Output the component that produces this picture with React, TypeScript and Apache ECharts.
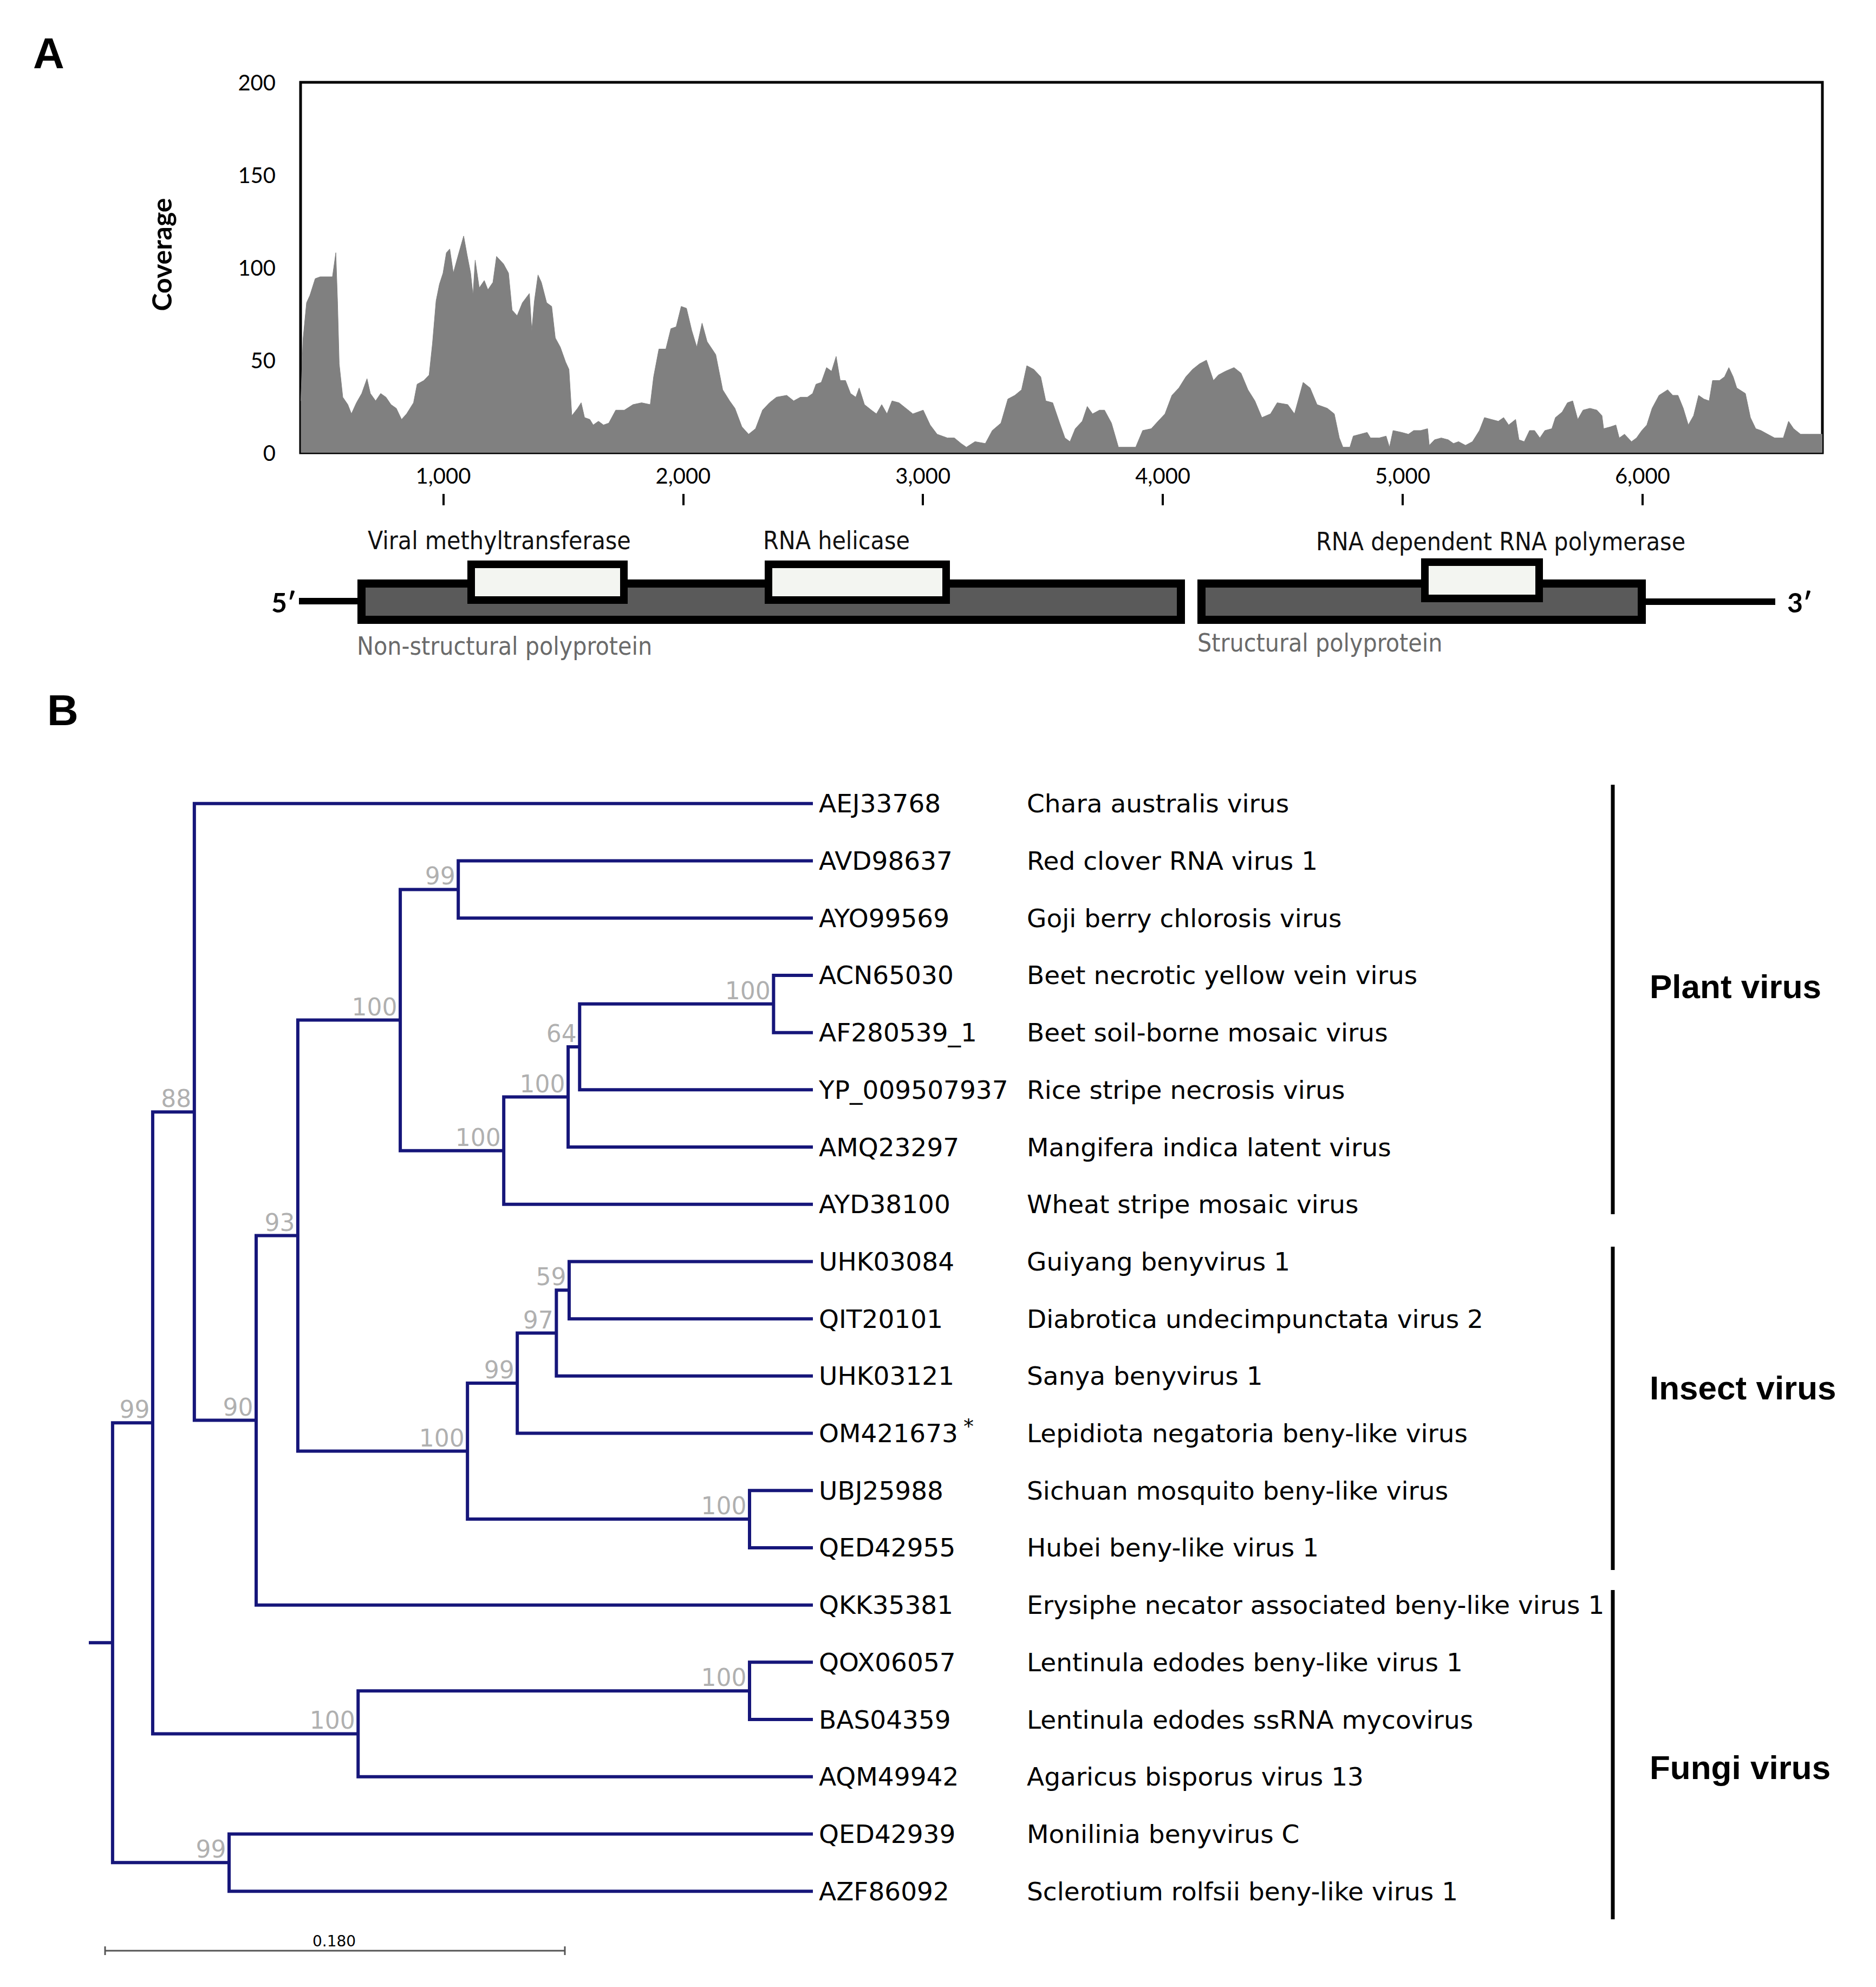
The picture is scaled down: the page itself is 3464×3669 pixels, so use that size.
import React, { useEffect, useRef } from 'react';
import * as echarts from 'echarts';

// ---------- Panel A: coverage ----------
const covPos = [
  406, 415, 430, 444, 466, 487, 538, 552, 559, 566, 581, 602, 617, 638, 660, 682, 696, 718, 739, 761,
  782, 804, 826, 847, 876, 891, 919, 941, 955, 970, 984, 999, 1013, 1027, 1042, 1063, 1085, 1099, 1114, 1124,
  1133, 1150, 1171, 1186, 1207, 1222, 1251, 1272, 1287, 1308, 1330, 1359, 1369, 1380, 1395, 1409, 1431, 1452, 1467, 1488,
  1510, 1524, 1536, 1560, 1575, 1589, 1611, 1625, 1647, 1668, 1690, 1719, 1755, 1791, 1827, 1863, 1877, 1899, 1928, 1949,
  1971, 1992, 2014, 2036, 2057, 2079, 2100, 2136, 2165, 2194, 2216, 2245, 2273, 2302, 2331, 2360, 2389, 2432, 2461, 2489,
  2518, 2540, 2554, 2576, 2598, 2619, 2638, 2655, 2677, 2698, 2720, 2734, 2756, 2785, 2806, 2828, 2850, 2871, 2900, 2929,
  2958, 3001, 3030, 3059, 3102, 3131, 3159, 3181, 3217, 3260, 3289, 3325, 3354, 3383, 3411, 3433, 3462, 3491, 3512, 3541,
  3570, 3592, 3613, 3635, 3664, 3685, 3707, 3736, 3757, 3786, 3815, 3851, 3887, 3916, 3952, 3980, 4009, 4038, 4067, 4096,
  4124, 4153, 4182, 4211, 4232, 4261, 4297, 4326, 4355, 4384, 4413, 4449, 4477, 4521, 4549, 4585, 4614, 4643, 4686, 4715,
  4736, 4751, 4780, 4794, 4823, 4852, 4866, 4902, 4931, 4945, 4960, 4996, 5024, 5046, 5075, 5104, 5111, 5133, 5161, 5190,
  5212, 5233, 5262, 5291, 5320, 5341, 5370, 5399, 5421, 5442, 5471, 5485, 5507, 5529, 5550, 5572, 5593, 5622, 5637, 5665,
  5687, 5709, 5730, 5752, 5781, 5810, 5831, 5838, 5867, 5889, 5903, 5925, 5954, 5975, 5997, 6018, 6040, 6069, 6105, 6126,
  6148, 6170, 6191, 6213, 6234, 6256, 6278, 6292, 6321, 6342, 6360, 6378, 6393, 6429, 6450, 6472, 6494, 6522, 6551, 6587,
  6609, 6630, 6659, 6695, 6750,
];
const covVal = [
  28, 61, 81, 85, 94, 95, 95, 108, 82, 48, 30, 26, 21, 27, 32, 40, 32, 28, 32, 30,
  26, 24, 18, 21, 27, 37, 39, 42, 59, 82, 91, 97, 108, 110, 97, 107, 117, 107, 97, 85,
  104, 89, 93, 88, 92, 106, 102, 97, 77, 74, 81, 86, 66, 82, 96, 92, 81, 79, 62, 57,
  49, 45, 20, 24, 27, 19, 18, 15, 17, 15, 16, 23, 23, 26, 27, 26, 41, 56, 56, 67,
  68, 79, 78, 66, 57, 70, 60, 53, 34, 28, 24, 14, 10, 13, 23, 27, 30, 31, 28, 30,
  30, 32, 37, 38, 46, 44, 52, 39, 39, 32, 30, 35, 26, 23, 21, 26, 21, 28, 27, 24,
  21, 23, 15, 10, 8, 8, 5, 3, 6, 5, 12, 16, 29, 31, 34, 47, 45, 41, 28, 27,
  16, 8, 6, 13, 17, 25, 21, 23, 23, 16, 3, 3, 3, 12, 13, 17, 21, 31, 35, 41,
  45, 48, 50, 39, 42, 44, 46, 43, 34, 28, 19, 21, 27, 26, 21, 38, 35, 26, 24, 21,
  8, 3, 3, 9, 10, 11, 8, 8, 9, 3, 12, 11, 10, 12, 12, 13, 4, 7, 8, 7,
  5, 6, 4, 6, 12, 19, 18, 17, 19, 15, 18, 7, 6, 12, 12, 8, 12, 13, 19, 22,
  27, 28, 18, 23, 24, 23, 20, 13, 14, 15, 8, 10, 6, 8, 12, 15, 24, 31, 34, 31,
  31, 24, 15, 20, 31, 29, 28, 39, 39, 41, 46, 41, 35, 32, 19, 13, 12, 10, 8, 8,
  17, 13, 10, 10, 10,
];
const xTicks = [1000, 2000, 3000, 4000, 5000, 6000];

// genome map labels
const domainLabels = ['Viral methyltransferase', 'RNA helicase', 'RNA dependent RNA polymerase'];
const orfLabels = ['Non-structural polyprotein', 'Structural polyprotein'];

// ---------- Panel B: tree ----------
const leafIds = [
  'AEJ33768', 'AVD98637', 'AYO99569', 'ACN65030', 'AF280539_1', 'YP_009507937', 'AMQ23297', 'AYD38100',
  'UHK03084', 'QIT20101', 'UHK03121', 'OM421673', 'UBJ25988', 'QED42955', 'QKK35381', 'QOX06057',
  'BAS04359', 'AQM49942', 'QED42939', 'AZF86092',
];
const leafNames = [
  'Chara australis virus', 'Red clover RNA virus 1', 'Goji berry chlorosis virus',
  'Beet necrotic yellow vein virus', 'Beet soil-borne mosaic virus', 'Rice stripe necrosis virus',
  'Mangifera indica latent virus', 'Wheat stripe mosaic virus', 'Guiyang benyvirus 1',
  'Diabrotica undecimpunctata virus 2', 'Sanya benyvirus 1', 'Lepidiota negatoria beny-like virus',
  'Sichuan mosquito beny-like virus', 'Hubei beny-like virus 1', 'Erysiphe necator associated beny-like virus 1',
  'Lentinula edodes beny-like virus 1', 'Lentinula edodes ssRNA mycovirus', 'Agaricus bisporus virus 13',
  'Monilinia benyvirus C', 'Sclerotium rolfsii beny-like virus 1',
];
const leafDepth = 0.2834;
const nodeIds = ['root', 'n99a', 'n88', 'n90', 'n93', 'n100a', 'n99b', 'n100b', 'n100c', 'n64', 'n100d',
  'n100e', 'n99c', 'n97', 'n59', 'n100f', 'n100g', 'n100h', 'n99d'];
const nodeDepth = [0.0093, 0.0250, 0.0413, 0.0655, 0.0818, 0.1219, 0.1446, 0.1624, 0.1876, 0.1921, 0.2680,
  0.1482, 0.1677, 0.1830, 0.1880, 0.2586, 0.1054, 0.2586, 0.0549];
const nodeSupport = [null, 99, 88, 90, 93, 100, 99, 100, 100, 64, 100, 100, 99, 97, 59, 100, 100, 100, 99];
const nodeKids = [
  ['n99a', 'n99d'], ['n88', 'n100g'], ['L0', 'n90'], ['n93', 'L14'], ['n100a', 'n100e'],
  ['n99b', 'n100b'], ['L1', 'L2'], ['n100c', 'L7'], ['n64', 'L6'], ['n100d', 'L5'], ['L3', 'L4'],
  ['n99c', 'n100f'], ['n97', 'L11'], ['n59', 'L10'], ['L8', 'L9'], ['L12', 'L13'],
  ['n100h', 'L17'], ['L15', 'L16'], ['L18', 'L19'],
];
const groupNames = ['Plant virus', 'Insect virus', 'Fungi virus'];
const scaleBarLabel = '0.180';

const NAVY = '#16167a';

function depthOf(id: string): number {
  if (id[0] === 'L') return leafDepth;
  return nodeDepth[nodeIds.indexOf(id)];
}
function yOf(id: string): number {
  if (id[0] === 'L') return Number(id.slice(1));
  const k = nodeKids[nodeIds.indexOf(id)];
  return (yOf(k[0]) + yOf(k[k.length - 1])) / 2;
}

function buildOption() {
  const covData = covPos.map((p, i) => [p, covVal[i]]);

  const branches: any[] = [];
  nodeIds.forEach((id, i) => {
    const k = nodeKids[i];
    const d = nodeDepth[i];
    const y1 = yOf(k[0]);
    const y2 = yOf(k[1]);
    branches.push({ coords: [[depthOf(k[0]), y1], [d, y1], [d, y2], [depthOf(k[1]), y2]] });
  });
  const yRoot = yOf('root');
  branches.push({ coords: [[0, yRoot], [nodeDepth[0], yRoot]] });

  const supports: any[] = [];
  nodeIds.forEach((id, i) => {
    if (nodeSupport[i] != null) supports.push([nodeDepth[i], yOf(id), nodeSupport[i]]);
  });

  const condensed = '"DejaVu Sans Condensed", "DejaVu Sans", sans-serif';
  const txt = (text: string, x: number, y: number, font: string, fill: string, align = 'left', extra: any = {}) => ({
    type: 'text',
    x, y,
    ...extra,
    style: { text, x: 0, y: 0, font, fill, align, textAlign: align, verticalAlign: 'middle', textVerticalAlign: 'middle' },
  });

  const groupSpansPx = [[1449, 2242], [2302, 2899], [2936, 3544]];
  const groupLabelY = [1821, 2562, 3263];

  const graphic: any[] = [
    txt('A', 61, 98, 'bold 80px "Liberation Sans", Arial, sans-serif', '#000'),
    txt('B', 87, 1311, 'bold 80px "Liberation Sans", Arial, sans-serif', '#000'),
    txt('Coverage', 298, 470, 'bold 50px Lato, sans-serif', '#000', 'center', { rotation: Math.PI / 2 }),
    // genome map
    { type: 'line', shape: { x1: 552, y1: 1110, x2: 668, y2: 1110 }, style: { stroke: '#000', lineWidth: 12 } },
    { type: 'line', shape: { x1: 3030, y1: 1111, x2: 3278, y2: 1111 }, style: { stroke: '#000', lineWidth: 12 } },
    { type: 'rect', shape: { x: 667.5, y: 1077.5, width: 1513, height: 67 }, style: { fill: '#5a5a5a', stroke: '#000', lineWidth: 15 } },
    { type: 'rect', shape: { x: 2218.5, y: 1077.5, width: 813, height: 67 }, style: { fill: '#5a5a5a', stroke: '#000', lineWidth: 15 } },
    { type: 'rect', shape: { x: 870, y: 1042, width: 282, height: 66 }, style: { fill: '#f3f5f1', stroke: '#000', lineWidth: 14 } },
    { type: 'rect', shape: { x: 1419, y: 1042, width: 328, height: 66 }, style: { fill: '#f3f5f1', stroke: '#000', lineWidth: 14 } },
    { type: 'rect', shape: { x: 2631, y: 1038, width: 211, height: 67 }, style: { fill: '#f3f5f1', stroke: '#000', lineWidth: 14 } },
    txt(domainLabels[0], 679, 998, '46px ' + condensed, '#111'),
    txt(domainLabels[1], 1409, 998, '46px ' + condensed, '#111'),
    txt(domainLabels[2], 2430, 1000, '46px ' + condensed, '#111'),
    txt(orfLabels[0], 659, 1193, '46px ' + condensed, '#6a6a6a'),
    txt(orfLabels[1], 2211, 1187, '46px ' + condensed, '#6a6a6a'),
    txt('5′', 547, 1112, 'bold 50px Lato, sans-serif', '#000', 'right'),
    txt('3′', 3300, 1112, 'bold 50px Lato, sans-serif', '#000', 'left'),
    // scale bar
    { type: 'line', shape: { x1: 194, y1: 3602, x2: 1043, y2: 3602 }, style: { stroke: '#555', lineWidth: 3 } },
    { type: 'line', shape: { x1: 194, y1: 3594, x2: 194, y2: 3610 }, style: { stroke: '#555', lineWidth: 3 } },
    { type: 'line', shape: { x1: 1043, y1: 3594, x2: 1043, y2: 3610 }, style: { stroke: '#555', lineWidth: 3 } },
    txt(scaleBarLabel, 617, 3584, '28px "DejaVu Sans", sans-serif', '#000', 'center'),
  ];
  groupNames.forEach((g, i) => {
    graphic.push({ type: 'line', shape: { x1: 2978, y1: groupSpansPx[i][0], x2: 2978, y2: groupSpansPx[i][1] }, style: { stroke: '#000', lineWidth: 7 } });
    graphic.push(txt(g, 3046, groupLabelY[i], 'bold 62px "Liberation Sans", Arial, sans-serif', '#000'));
  });

  const leafFont = '"DejaVu Sans", sans-serif';

  return {
    animation: false,
    backgroundColor: '#ffffff',
    grid: [
      { left: 555, top: 152, width: 2810, height: 684, show: true, borderColor: '#000', borderWidth: 5, backgroundColor: 'transparent' },
      { left: 164, top: 1431, width: 1337, height: 2114, show: false },
    ],
    xAxis: [
      {
        type: 'value', gridIndex: 0, min: 405, max: 6750,
        axisLine: { show: false }, axisTick: { show: false }, splitLine: { show: false },
        axisLabel: {
          customValues: xTicks,
          formatter: (v: number) => v.toLocaleString('en-US'),
          fontSize: 40, fontFamily: 'Lato, sans-serif', color: '#000', margin: 22,
        },
      },
      {
        type: 'value', gridIndex: 0, min: 405, max: 6750, position: 'bottom', offset: 76,
        axisLine: { show: false }, splitLine: { show: false }, axisLabel: { show: false },
        axisTick: { show: true, customValues: xTicks, length: 21, lineStyle: { color: '#000', width: 4 } },
      },
      { type: 'value', gridIndex: 1, min: 0, max: leafDepth, show: false },
    ],
    yAxis: [
      {
        type: 'value', gridIndex: 0, min: 0, max: 200, interval: 50,
        axisLine: { show: false }, axisTick: { show: false }, splitLine: { show: false },
        axisLabel: { fontSize: 40, fontFamily: 'Lato, sans-serif', color: '#000', margin: 46 },
      },
      { type: 'value', gridIndex: 1, min: -0.5, max: 19.5, inverse: true, show: false },
      {
        type: 'category', gridIndex: 1, data: leafIds, inverse: true, position: 'right', offset: 0,
        axisLine: { show: false }, axisTick: { show: false }, splitLine: { show: false },
        axisLabel: {
          interval: 0, margin: 11, fontSize: 47, fontFamily: leafFont, color: '#000', align: 'left',
          formatter: (v: string) => (v === 'OM421673' ? v + '{s|*}' : v),
          rich: { s: { fontSize: 38, fontFamily: leafFont, color: '#000', padding: [0, 0, 26, 10] } },
        },
      },
      {
        type: 'category', gridIndex: 1, data: leafNames, inverse: true, position: 'right', offset: 0,
        axisLine: { show: false }, axisTick: { show: false }, splitLine: { show: false },
        axisLabel: { interval: 0, margin: 395, fontSize: 47, fontFamily: leafFont, color: '#000', align: 'left' },
      },
    ],
    series: [
      {
        type: 'line', xAxisIndex: 0, yAxisIndex: 0, data: covData, symbol: 'none',
        lineStyle: { color: '#808080', width: 1 }, areaStyle: { color: '#808080', opacity: 1 },
        itemStyle: { color: '#808080' },
      },
      {
        type: 'lines', coordinateSystem: 'cartesian2d', xAxisIndex: 2, yAxisIndex: 1, polyline: true,
        clip: false, data: branches, lineStyle: { color: NAVY, width: 6, opacity: 1 }, silent: true,
      },
      {
        type: 'scatter', xAxisIndex: 2, yAxisIndex: 1, data: supports, symbolSize: 1,
        itemStyle: { color: 'rgba(0,0,0,0)' },
        label: {
          show: true, position: [-5, -24], align: 'right', verticalAlign: 'middle',
          formatter: (p: any) => String(p.value[2]),
          fontSize: 44, fontFamily: leafFont, color: '#9a9a9a',
        },
      },
    ],
    graphic,
  };
}

export default function App() {
  const ref = useRef<HTMLDivElement>(null);
  useEffect(() => {
    if (!ref.current) return;
    const chart = echarts.init(ref.current, undefined, { renderer: 'svg' });
    chart.setOption(buildOption() as any);
    return () => chart.dispose();
  }, []);
  return (
    <div
      ref={ref}
      style={{ position: 'fixed', left: 0, top: 0, width: 3464, height: 3669, background: '#fff' }}
    />
  );
}
